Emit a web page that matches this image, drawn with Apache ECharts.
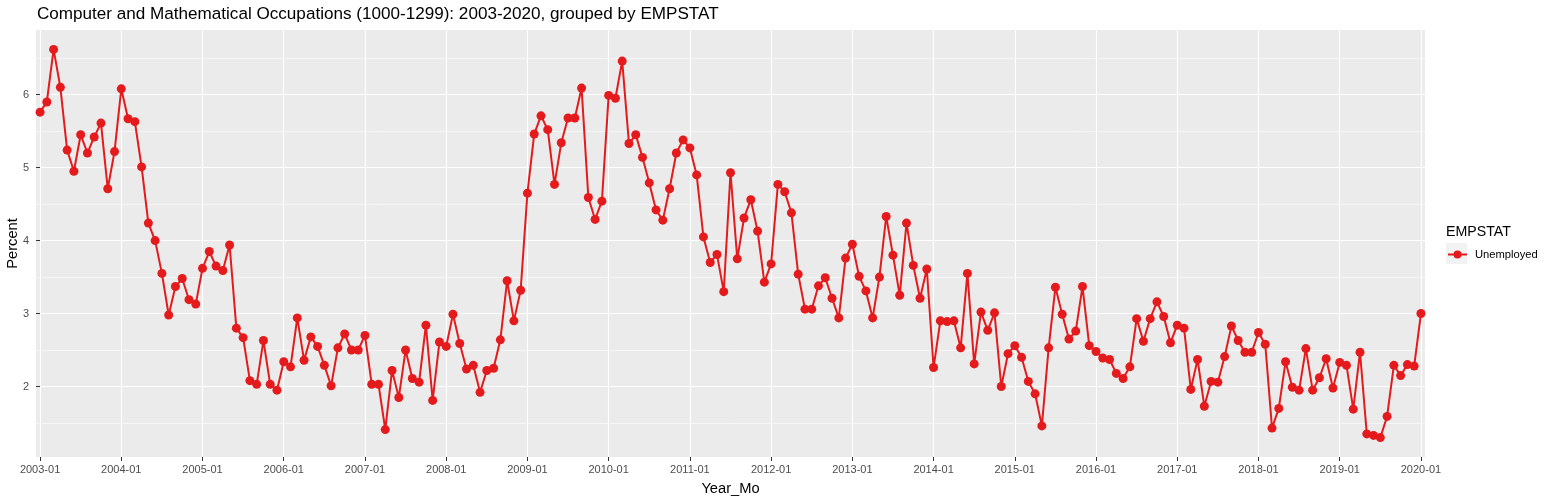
<!DOCTYPE html>
<html>
<head>
<meta charset="utf-8">
<script src="https://cdn.jsdelivr.net/npm/echarts@6/dist/echarts.min.js"></script>
<style>
html,body{margin:0;padding:0;background:#fff;}
#chart{width:1547px;height:500px;}
</style>
</head>
<body>
<div id="chart"></div>
<script>
const tickLabels = ['2003-01','2004-01','2005-01','2006-01','2007-01','2008-01','2009-01','2010-01','2011-01','2012-01','2013-01','2014-01','2015-01','2016-01','2017-01','2018-01','2019-01','2020-01'];
const yTicks = [2, 3, 4, 5, 6];
const yMinorTicks = [1.5, 2.5, 3.5, 4.5, 5.5, 6.5];
const seriesName = 'Unemployed';
const unemployed = [
  5.76,5.90,6.62,6.10,5.24,4.95,5.45,5.20,5.42,5.61,4.71,5.22,
  6.08,5.67,5.63,5.01,4.24,4.00,3.55,2.98,3.37,3.48,3.19,3.13,
  3.62,3.85,3.65,3.59,3.94,2.80,2.67,2.08,2.03,2.63,2.03,1.95,
  2.34,2.27,2.94,2.36,2.68,2.55,2.29,2.01,2.53,2.72,2.50,2.50,
  2.70,2.03,2.03,1.41,2.22,1.85,2.50,2.11,2.06,2.84,1.81,2.61,
  2.55,2.99,2.59,2.24,2.29,1.92,2.22,2.25,2.64,3.45,2.90,3.32,
  4.65,5.46,5.71,5.52,4.77,5.34,5.68,5.68,6.09,4.59,4.29,4.54,
  5.99,5.95,6.46,5.33,5.45,5.14,4.79,4.42,4.28,4.71,5.20,5.38,
  5.27,4.90,4.05,3.70,3.81,3.30,4.93,3.75,4.31,4.56,4.13,3.43,
  3.68,4.77,4.67,4.38,3.54,3.06,3.06,3.38,3.49,3.21,2.94,3.76,
  3.95,3.51,3.31,2.94,3.50,4.33,3.80,3.25,4.24,3.66,3.21,3.61,
  2.26,2.90,2.89,2.90,2.53,3.55,2.31,3.02,2.77,3.01,2.00,2.45,
  2.56,2.40,2.07,1.90,1.46,2.53,3.36,2.99,2.65,2.76,3.37,2.56,
  2.48,2.39,2.37,2.18,2.11,2.27,2.93,2.62,2.93,3.16,2.96,2.60,
  2.84,2.80,1.96,2.37,1.73,2.07,2.06,2.41,2.83,2.63,2.47,2.47,
  2.74,2.58,1.43,1.70,2.34,1.99,1.95,2.52,1.95,2.12,2.38,1.98,
  2.33,2.29,1.69,2.47,1.35,1.33,1.30,1.59,2.29,2.15,2.30,2.28,3.00
];

// month categories (Year_Mo), one per data point
const months = [];
for (let y = 2003; y <= 2020; y++) {
  for (let m = 1; m <= 12; m++) {
    if (months.length < unemployed.length) months.push(y + '-' + (m < 10 ? '0' + m : m));
  }
}
const xTickIdx = months.map((m, i) => m.endsWith('-01') ? i : -1).filter(i => i >= 0);

const FONT = '"Liberation Sans", Arial, sans-serif';
const RED = '#E41A1C';

const yMinVal = Math.min(...unemployed), yMaxVal = Math.max(...unemployed);
const yPad = (yMaxVal - yMinVal) * 0.05;
const yMin = yMinVal - yPad, yMax = yMaxVal + yPad;

const chart = echarts.init(document.getElementById('chart'), null, {renderer: 'canvas'});
chart.setOption({
  animation: false,
  backgroundColor: '#ffffff',
  textStyle: {fontFamily: FONT},
  title: [
    {text: 'Computer and Mathematical Occupations (1000-1299): 2003-2020, grouped by EMPSTAT',
     left: 37, top: 6, padding: 0, textStyle: {fontSize: 17.1, fontWeight: 'normal', color: '#000', fontFamily: FONT}},
    {text: 'EMPSTAT', left: 1446, top: 225, padding: 0,
     textStyle: {fontSize: 14.2, fontWeight: 'normal', color: '#000', fontFamily: FONT}}
  ],
  graphic: [
    {type: 'rect', left: 1446, top: 243, shape: {width: 21, height: 21}, style: {fill: '#F2F2F2'}, z: 0}
  ],
  legend: {
    left: 1447, top: 249, padding: 0, itemWidth: 19, itemHeight: 10, itemGap: 4,
    data: [seriesName],
    textStyle: {fontSize: 11.2, color: '#000', fontFamily: FONT, padding: [0, 0, 0, 3]}
  },
  grid: {left: 36, right: 122, top: 30, bottom: 43, containLabel: false, outerBoundsMode: 'none',
         show: true, backgroundColor: '#EBEBEB', borderWidth: 0},
  xAxis: {
    type: 'value', min: -0.6, max: months.length - 1 + 0.6,
    name: 'Year_Mo', nameLocation: 'middle', nameGap: 24, nameMoveOverlap: false,
    nameTextStyle: {fontSize: 14.7, color: '#000', fontFamily: FONT},
    axisLine: {show: false},
    axisTick: {show: true, length: 4, lineStyle: {color: '#333333', width: 1}, customValues: xTickIdx},
    axisLabel: {customValues: xTickIdx, formatter: v => tickLabels[xTickIdx.indexOf(v)] || months[v],
                fontSize: 11, color: '#4D4D4D', margin: 7, fontFamily: FONT},
    splitLine: {show: true, lineStyle: {color: '#FFFFFF', width: 1.1}}
  },
  yAxis: [
    {type: 'value', min: yMin, max: yMax,
     name: 'Percent', nameLocation: 'middle', nameGap: 16, nameRotate: 90, nameMoveOverlap: false,
     nameTextStyle: {fontSize: 14.7, color: '#000', fontFamily: FONT},
     axisLine: {show: false},
     axisTick: {show: true, length: 4, lineStyle: {color: '#333333', width: 1}, customValues: yTicks},
     axisLabel: {customValues: yTicks, fontSize: 11, color: '#4D4D4D', margin: 7, fontFamily: FONT},
     splitLine: {show: true, lineStyle: {color: '#FFFFFF', width: 1.1}}
    },
    {type: 'value', min: yMin, max: yMax, position: 'left',
     axisLine: {show: false}, axisLabel: {show: false},
     axisTick: {show: false, customValues: yMinorTicks},
     splitLine: {show: true, lineStyle: {color: '#FFFFFF', width: 0.55}}
    }
  ],
  series: [{
    name: seriesName, type: 'line', yAxisIndex: 0,
    data: unemployed.map((v, i) => [i, v]),
    symbol: 'circle', symbolSize: 9, showSymbol: true,
    lineStyle: {color: RED, width: 2},
    itemStyle: {color: RED},
    z: 5
  }]
});
</script>
</body>
</html>
